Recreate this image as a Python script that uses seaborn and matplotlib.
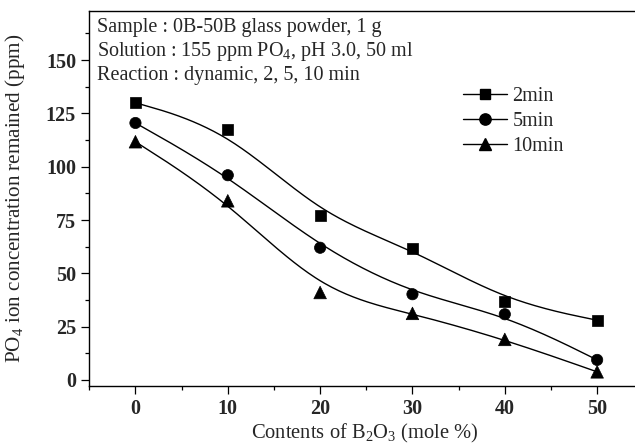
import numpy as np
import pandas as pd
import matplotlib
matplotlib.use("Agg")
import matplotlib.pyplot as plt
from matplotlib.lines import Line2D
import seaborn as sns

# ---- data ----
b2o3 = [0, 10, 20, 30, 40, 50]
po4_2min = [130, 117.5, 77, 61.5, 37, 28]
po4_5min = [120.5, 96, 62, 40.2, 30.8, 9.4]
po4_10min = [111.7, 84, 41, 31.2, 19, 3.8]
series_names = ["2min", "5min", "10min"]
x_ticks = [0, 10, 20, 30, 40, 50]
y_ticks = [0, 25, 50, 75, 100, 125, 150]
info_lines = ["Sample : 0B-50B glass powder, 1 g",
              "Solution : 155 ppm PO$_4$, pH 3.0, 50 ml",
              "Reaction : dynamic, 2, 5, 10 min"]

sns.set_theme(style="ticks")
plt.rcParams["font.family"] = ["Liberation Serif", "DejaVu Serif"]
plt.rcParams["mathtext.fontset"] = "custom"
plt.rcParams["mathtext.rm"] = "Liberation Serif"
plt.rcParams["mathtext.it"] = "Liberation Serif:italic"
plt.rcParams["mathtext.bf"] = "Liberation Serif:bold"


def bspline(xs, ys, n=40):
    """Uniform cubic B-spline using the data points as control points (clamped)."""
    P = np.column_stack([xs, ys]).astype(float)
    P = np.vstack([P[0], P[0], P, P[-1], P[-1]])
    out = []
    t = np.linspace(0, 1, n)
    b0 = (1 - t) ** 3 / 6
    b1 = (3 * t ** 3 - 6 * t ** 2 + 4) / 6
    b2 = (-3 * t ** 3 + 3 * t ** 2 + 3 * t + 1) / 6
    b3 = t ** 3 / 6
    for i in range(len(P) - 3):
        seg = (b0[:, None] * P[i] + b1[:, None] * P[i + 1]
               + b2[:, None] * P[i + 2] + b3[:, None] * P[i + 3])
        out.append(seg if i == 0 else seg[1:])
    out = np.vstack(out)
    return out[:, 0], out[:, 1]


pts = pd.DataFrame({
    "x": b2o3 * 3,
    "y": po4_2min + po4_5min + po4_10min,
    "series": sum([[s] * len(b2o3) for s in series_names], []),
})

curves = []
for name, vals in zip(series_names, [po4_2min, po4_5min, po4_10min]):
    cx, cy = bspline(b2o3, vals)
    curves.append(pd.DataFrame({"x": cx, "y": cy, "series": name}))
curves = pd.concat(curves, ignore_index=True)

fig = plt.figure(figsize=(6.35, 4.46), dpi=100)
ax = fig.add_axes([0.1406, 0.1352, 0.8594, 0.8401])

markers = {"2min": "s", "5min": "o", "10min": "^"}
msizes = {"2min": 62, "5min": 66, "10min": 82}
sns.lineplot(data=curves, x="x", y="y", units="series", estimator=None,
             sort=False, color="black", linewidth=1.0, ax=ax, legend=False)
sns.scatterplot(data=pts, x="x", y="y", style="series", markers=markers,
                size="series", sizes=msizes,
                color="black", edgecolor="black", linewidth=0.5,
                ax=ax, legend=False, zorder=3)

ax.set_xlim(-5, 54.1)
ax.set_ylim(-2.7, 173)
ax.set_xticks(x_ticks)
ax.set_yticks(y_ticks)
ax.set_xticks([-5, 5, 15, 25, 35, 45], minor=True)
ax.set_yticks([12.5, 37.5, 62.5, 87.5, 112.5, 137.5, 162.5], minor=True)
ax.tick_params(which="major", direction="out", length=5.5, width=0.9,
               color="black", labelsize=14.5, pad=4)
ax.tick_params(which="minor", direction="out", length=3, width=0.9, color="black")
for lab in ax.get_xticklabels() + ax.get_yticklabels():
    lab.set_fontweight("bold")

for side in ["left", "bottom", "top"]:
    ax.spines[side].set_visible(True)
    ax.spines[side].set_linewidth(1.0)
    ax.spines[side].set_color("black")
ax.spines["right"].set_visible(False)

ax.set_xlabel("Contents of B$_2$O$_3$ (mole %)", fontsize=14.8)
ax.set_ylabel("PO$_4$ ion concentration remained (ppm)", fontsize=15.2)
ax.xaxis.set_label_coords(0.505, -0.096)
ax.yaxis.set_label_coords(-0.114, 0.5)

for i, line in enumerate(info_lines):
    ax.text(0.0136, 1 - (32.3 - 11 + 24 * i) / 374.7, line,
            transform=ax.transAxes, fontsize=14.5, va="baseline", ha="left")

handles = [Line2D([0], [0], color="black", lw=1.0, marker=markers[s],
                  markersize=np.sqrt(msizes[s]), markerfacecolor="black")
           for s in series_names]
ax.legend(handles, series_names, loc="upper left", bbox_to_anchor=(0.685, 0.797),
          frameon=False, fontsize=14.5, handlelength=2.2, handletextpad=0.25,
          labelspacing=0.3, borderpad=0, borderaxespad=0)

fig.savefig("out.png", dpi=100)
